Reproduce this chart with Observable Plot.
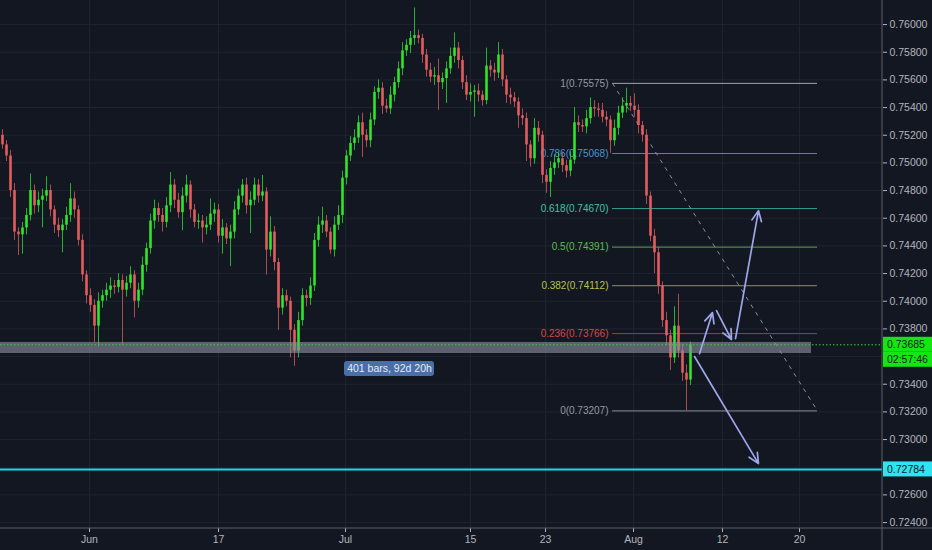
<!DOCTYPE html>
<html><head><meta charset="utf-8">
<script src="https://cdn.jsdelivr.net/npm/d3@7"></script>
<script src="https://cdn.jsdelivr.net/npm/@observablehq/plot@0.6"></script>
<style>
html,body{margin:0;padding:0;background:#131722;overflow:hidden}
#chart{width:932px;height:550px}
</style></head><body><div id="chart"></div>
<script>
// ---- data ----
const firstOpen = 0.7520;
const closes = [
0.7513,0.7505,0.7480,0.7450,0.7448,0.7453,0.7462,0.7480,0.7469,0.7473,
0.7476,0.7480,0.7466,0.7455,0.7451,0.7455,0.7462,0.7474,0.7466,0.7444,
0.7419,0.7404,0.7397,0.7382,0.7400,0.7404,0.7408,0.7411,0.7410,0.7415,
0.7408,0.7413,0.7419,0.7400,0.7408,0.7426,0.7438,0.7458,0.7467,0.7462,
0.7457,0.7469,0.7484,0.7473,0.7464,0.7476,0.7484,0.7466,0.7457,0.7458,
0.7453,0.7455,0.7463,0.7466,0.7447,0.7453,0.7445,0.7450,0.7466,0.7476,
0.7484,0.7469,0.7473,0.7484,0.7476,0.7479,0.7437,0.7450,0.7428,0.7395,
0.7404,0.7400,0.7379,0.7364,0.7386,0.7404,0.7402,0.7411,0.7444,0.7455,
0.7458,0.7450,0.7437,0.7455,0.7462,0.7489,0.7505,0.7514,0.7518,0.7529,
0.7520,0.7516,0.7531,0.7551,0.7554,0.7541,0.7539,0.7549,0.7558,0.7568,
0.7581,0.7585,0.7590,0.7592,0.7590,0.7578,0.7567,0.7562,0.7563,0.7558,
0.7561,0.7568,0.7577,0.7583,0.7574,0.7558,0.7549,0.7551,0.7552,0.7549,
0.7545,0.7570,0.7567,0.7565,0.7578,0.7560,0.7549,0.7547,0.7544,0.7534,
0.7532,0.7513,0.7503,0.7525,0.7520,0.7491,0.7486,0.7496,0.7500,0.7503,
0.7498,0.7494,0.7502,0.7529,0.7527,0.7526,0.7532,0.7540,0.7539,0.7538,
0.7533,0.7531,0.7516,0.7525,0.7536,0.7541,0.7543,0.7541,0.7538,0.7527,
0.7520,0.7476,0.7447,0.7435,0.7411,0.7386,0.7375,0.7359,0.7382,0.7364,
0.7348,0.7343,0.73685];
// wick lengths in pips (0.0001) above / below the body
const upperWick = [
4,3,4,5,3,4,5,12,4,6, 5,10,4,3,5,4,6,11,5,3, 4,3,5,4,6,4,5,6,4,5,
4,5,6,3,5,6,4,5,6,4, 5,6,9,4,5,6,7,3,4,5, 4,6,11,5,4,6,3,5,6,5,
4,5,6,5,4,12,3,11,4,3, 5,4,3,4,6,5,4,6,5,6, 10,4,3,6,7,5,4,5,6,5,
7,4,5,4,6,4,5,6,4,5, 6,4,5,20,4,3,4,5,6,12, 4,5,6,11,4,3,5,6,4,5,
3,13,4,5,9,4,3,5,4,3, 5,4,3,7,5,3,4,5,6,4, 5,4,6,11,5,4,6,7,5,4,
5,4,3,6,5,6,11,5,9,4, 3,4,3,5,4,3,6,4,14,23, 5,6,2];
const lowerWick = [
3,4,5,6,15,14,5,4,6,5, 20,4,5,6,5,16,4,5,6,4, 5,6,5,12,15,5,4,6,5,4,
40,5,4,12,5,4,5,4,6,5, 7,4,5,6,4,13,5,6,4,5, 11,5,4,6,5,13,4,20,5,4,
5,6,20,4,5,4,18,5,6,16, 5,4,20,11,5,4,6,5,4,5, 6,4,3,5,4,6,5,4,5,4,
16,5,5,4,5,6,3,4,5,4, 5,4,6,5,4,6,5,4,6,20, 5,18,4,5,6,5,4,5,18,5,
4,3,5,6,4,5,6,5,4,9, 5,12,6,4,5,6,8,11,5,4, 5,5,4,3,5,4,5,4,6,5,
4,5,9,4,5,4,5,4,5,6, 5,6,4,15,6,5,7,9,4,5, 6,22,4];

const priceTicks = [0.724,0.726,0.728,0.730,0.732,0.734,0.736,0.738,0.740,0.742,0.744,0.746,0.748,0.750,0.752,0.754,0.756,0.758,0.760];
const hiddenTickLabels = [0.736, 0.728]; // covered by the price badges in the original
const dateTickPos = [21.75, 54, 85.75, 117, 135.75, 157.75, 180, 199.25];
const dateTickLabels = ["Jun","17","Jul","15","23","Aug","12","20"];

const fibRatios = ["1","0.786","0.618","0.5","0.382","0.236","0"];
const fibValues = [0.75575,0.75068,0.74670,0.74391,0.74112,0.73766,0.73207];
const fibLineColors = ["#a3a6af","#4f8a9c","#2f9e90","#4fa84a","#8e9a45","#a73a3e","#8a8d96"];
const fibTextColors = ["#9598a1","#4a93cc","#43c2a6","#5cbd4c","#b9c24a","#d9474c","#9598a1"];
const fibStart = 152.5, fibEnd = 203.75;

const lastPrice = 0.73685, countdown = "02:57:46";
const supportLevel = 0.72784;
const zone = {x1: -0.5, x2: 202.25, y1: 0.73622, y2: 0.73702};
const measure = {x1: 85.5, x2: 108, y1: 0.73455, y2: 0.73564, text: "401 bars, 92d 20h"};
const arrows = [
  {x1:174.25, y1:0.73621, x2:177.5, y2:0.73918},
  {x1:178.5,  y1:0.73932, x2:182.25, y2:0.73723},
  {x1:183.25, y1:0.73730, x2:189,   y2:0.74655},
  {x1:173,    y1:0.73600, x2:189,   y2:0.72826}
];
const xDomain = [-0.5, 220], yDomain = [0.72357, 0.76174];

// ---- build ----
const candles = closes.map((c, i) => {
  const o = i ? closes[i - 1] : firstOpen;
  return {i, o, c, up: c >= o,
    h: Math.max(o, c) + upperWick[i] * 1e-4,
    l: Math.min(o, c) - lowerWick[i] * 1e-4};
});
const fibs = fibValues.map((v, j) => ({v, r: fibRatios[j], lc: fibLineColors[j], tc: fibTextColors[j]}));
const dateLabel = new Map(dateTickPos.map((p, j) => [p, dateTickLabels[j]]));
const labelTicks = priceTicks.filter(t => !hiddenTickLabels.some(h => Math.abs(h - t) < 1e-9));
const font = "'Liberation Sans', Arial, sans-serif";
const UP = "#2ee62e", DN = "#e35d5d";

const plot = Plot.plot({
  width: 932, height: 550,
  marginLeft: 0, marginRight: 50, marginTop: 0, marginBottom: 22,
  x: {domain: xDomain},
  y: {domain: yDomain},
  style: {background: "#131722", color: "#b2b5be", fontFamily: font, fontSize: "10.5px"},
  marks: [
    Plot.ruleY(priceTicks, {stroke: "#1f2330"}),
    Plot.ruleX(dateTickPos, {stroke: "#1f2330"}),
    Plot.ruleY(fibs, {y: "v", x1: fibStart, x2: fibEnd, stroke: "lc", strokeWidth: 1}),
    Plot.text(fibs, {y: "v", x: fibStart, dx: -4, text: d => `${d.r}(${d.v.toFixed(5)})`, fill: "tc", textAnchor: "end", fontSize: 10}),
    Plot.link([{}], {x1: fibStart, y1: fibValues[0], x2: fibEnd, y2: fibValues[6], stroke: "#8a8d96", strokeDasharray: "4,5", strokeWidth: 1}),
    Plot.ruleX(candles, {x: "i", y1: "l", y2: "h", stroke: d => d.up ? UP : DN, strokeOpacity: 0.75, strokeWidth: 1}),
    Plot.ruleX(candles, {x: "i", y1: "o", y2: "c", stroke: d => d.up ? UP : DN, strokeWidth: 2.6}),
    Plot.rect([zone], {x1: "x1", x2: "x2", y1: "y1", y2: "y2", fill: "#8a8e9e", fillOpacity: 0.62}),
    Plot.ruleY([lastPrice], {stroke: "#35d835", strokeDasharray: "1.5,2", strokeWidth: 1}),
    Plot.ruleY([supportLevel], {stroke: "#22d8ea", strokeWidth: 2}),
    Plot.arrow(arrows, {x1: "x1", y1: "y1", x2: "x2", y2: "y2", stroke: "#9ea6ea", strokeWidth: 1.7, headLength: 10, headAngle: 50}),
    Plot.rect([measure], {x1: "x1", x2: "x2", y1: "y1", y2: "y2", fill: "#4a6ea8", rx: 3}),
    Plot.text([measure], {x: d => (d.x1 + d.x2) / 2, y: d => (d.y1 + d.y2) / 2, text: "text", fill: "#e6ebf5", fontSize: 10.5}),
    Plot.axisY({anchor: "right", ticks: priceTicks, tickFormat: () => "", tickSize: 4, label: null}),
    Plot.axisY({anchor: "right", ticks: labelTicks, tickFormat: d3.format(".5f"), tickSize: 0, tickPadding: 7, label: null}),
    Plot.axisX({ticks: dateTickPos, tickFormat: d => dateLabel.get(d), tickSize: 4, tickPadding: 3, label: null})
  ]
});
document.getElementById("chart").appendChild(plot);

// axis frame and price badges placed through the plot's scales
const sx = plot.scale("x"), sy = plot.scale("y");
const svg = d3.select(plot);
const ax = sx.apply(xDomain[1]), ay = sy.apply(yDomain[0]);
svg.append("line").attr("x1", ax).attr("x2", ax).attr("y1", 0).attr("y2", 550).attr("stroke", "#5d606b");
svg.append("line").attr("x1", 0).attr("x2", 932).attr("y1", ay).attr("y2", ay).attr("stroke", "#5d606b");
function badge(yc, label, fill) {
  svg.append("rect").attr("x", ax + 1).attr("y", yc - 7.5).attr("width", 50).attr("height", 15).attr("fill", fill);
  svg.append("text").attr("x", ax + 5).attr("y", yc + 4).attr("fill", "#131722")
    .attr("text-anchor", "start").style("font", `10.5px ${font}`).text(label);
}
const yl = sy.apply(lastPrice);
badge(yl, d3.format(".5f")(lastPrice), "#14e614");
badge(yl + 15, countdown, "#14e614");
badge(sy.apply(supportLevel), d3.format(".5f")(supportLevel), "#2ee3f2");
</script></body></html>
